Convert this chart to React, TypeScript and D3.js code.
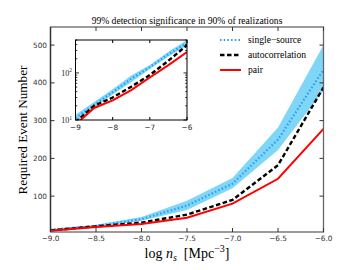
import * as React from "react";
import * as d3 from "d3";

// log n_s grid and required event numbers
const logNs = [-9, -8.5, -8, -7.5, -7, -6.5, -6];
const pairVals = [8, 18, 26, 43, 80, 146, 278];
const autoVals = [9, 20, 30, 51, 90, 182, 388];
const singleVals = [11, 21, 39, 75, 133, 250, 435];
const singleLow = [9, 18, 35, 63, 121, 222, 380];
const singleHigh = [13, 24, 45, 88, 148, 282, 500];

const mainXTicks = [-9, -8.5, -8, -7.5, -7, -6.5, -6];
const mainYTicks = [100, 200, 300, 400, 500];
const insetXTicks = [-9, -8, -7, -6];
const insetYTicks = [10, 100];

const legendItems = [
  { label: "single\u2212source", color: "#2b9cf2", dash: "1.5,2.2", width: 2.2 },
  { label: "autocorrelation", color: "#000", dash: "4.5,2.5", width: 2.4 },
  { label: "pair", color: "#ff0000", dash: null, width: 2 },
];

const serif = "'Liberation Serif', 'DejaVu Serif', serif";
const sans = "'DejaVu Sans', sans-serif";

export default function App() {
  const ref = React.useRef<SVGSVGElement>(null);

  React.useEffect(() => {
    const svg = d3.select(ref.current);
    svg.selectAll("*").remove();

    const W = 360, H = 270;
    svg.append("rect").attr("width", W).attr("height", H).attr("fill", "#fff");

    const m = { left: 50.5, right: 323.5, top: 27, bottom: 232 };
    const x = d3.scaleLinear().domain([-9, -6]).range([m.left, m.right]);
    const y = d3.scaleLinear().domain([5, 548]).range([m.bottom, m.top]);

    const data = logNs.map((v, i) => ({
      x: v, pair: pairVals[i], auto: autoVals[i], single: singleVals[i],
      lo: singleLow[i], hi: singleHigh[i],
    }));

    const defs = svg.append("defs");
    defs.append("clipPath").attr("id", "mainClip").append("rect")
      .attr("x", m.left).attr("y", m.top)
      .attr("width", m.right - m.left).attr("height", m.bottom - m.top);

    // title
    svg.append("text").attr("x", (m.left + m.right) / 2).attr("y", 24)
      .attr("text-anchor", "middle").attr("font-family", serif).attr("font-size", 9.6)
      .text("99% detection significance in 90% of realizations");

    // data in main axes
    const drawSeries = (g: any, xs: any, ys: any) => {
      const area = d3.area<any>().x((d) => xs(d.x)).y0((d) => ys(d.lo)).y1((d) => ys(d.hi));
      g.append("path").datum(data).attr("d", area).attr("fill", "#7fd6f7").attr("stroke", "none");
      const line = (k: string) => d3.line<any>().x((d) => xs(d.x)).y((d) => ys(d[k]));
      g.append("path").datum(data).attr("d", line("single")).attr("fill", "none")
        .attr("stroke", "#2b9cf2").attr("stroke-width", 2.2).attr("stroke-dasharray", "1.5,2.2");
      g.append("path").datum(data).attr("d", line("auto")).attr("fill", "none")
        .attr("stroke", "#000").attr("stroke-width", 2.4).attr("stroke-dasharray", "4.5,2.5");
      g.append("path").datum(data).attr("d", line("pair")).attr("fill", "none")
        .attr("stroke", "#ff0000").attr("stroke-width", 2);
    };

    const main = svg.append("g").attr("clip-path", "url(#mainClip)");
    drawSeries(main, x, y);

    // main frame and ticks
    const frame = "#666";
    svg.append("rect").attr("x", m.left).attr("y", m.top)
      .attr("width", m.right - m.left).attr("height", m.bottom - m.top)
      .attr("fill", "none").attr("stroke", frame).attr("stroke-width", 1.3);
    svg.append("line").attr("x1", m.left).attr("x2", m.left).attr("y1", m.top).attr("y2", m.bottom)
      .attr("stroke", "#333").attr("stroke-width", 1.3);

    mainXTicks.forEach((t) => {
      const px = x(t);
      svg.append("line").attr("x1", px).attr("x2", px).attr("y1", m.bottom).attr("y2", m.bottom - 4)
        .attr("stroke", "#333");
      svg.append("line").attr("x1", px).attr("x2", px).attr("y1", m.top).attr("y2", m.top + 4)
        .attr("stroke", "#333");
      svg.append("text").attr("x", px).attr("y", 240.5).attr("text-anchor", "middle")
        .attr("font-family", sans).attr("font-size", 7.3).attr("fill", "#333")
        .text(d3.format(".1f")(t).replace("-", "\u2212"));
    });
    mainYTicks.forEach((t) => {
      const py = y(t);
      svg.append("line").attr("x1", m.left).attr("x2", m.left + 4).attr("y1", py).attr("y2", py)
        .attr("stroke", "#333");
      svg.append("line").attr("x1", m.right).attr("x2", m.right - 4).attr("y1", py).attr("y2", py)
        .attr("stroke", "#333");
      svg.append("text").attr("x", 47).attr("y", py + 2.6).attr("text-anchor", "end")
        .attr("font-family", sans).attr("font-size", 7.3).attr("fill", "#333").text(String(t));
    });

    // axis labels
    svg.append("text").attr("transform", "translate(27,130) rotate(-90)")
      .attr("text-anchor", "middle").attr("font-family", serif).attr("font-size", 13.2)
      .text("Required Event Number");

    const xl = svg.append("text").attr("x", 187).attr("y", 258).attr("text-anchor", "middle")
      .attr("font-family", serif).attr("font-size", 14);
    xl.append("tspan").text("log ");
    xl.append("tspan").attr("font-style", "italic").text("n");
    xl.append("tspan").attr("font-style", "italic").attr("font-size", 10).attr("dy", 3).text("s");
    xl.append("tspan").attr("dy", -3).text("\u2002[Mpc");
    xl.append("tspan").attr("font-size", 10).attr("dy", -6).text("\u22123");
    xl.append("tspan").attr("dy", 6).text("]");

    // legend
    legendItems.forEach((it, i) => {
      const ly = 40 + i * 15;
      const ln = svg.append("line").attr("x1", 220).attr("x2", 241).attr("y1", ly).attr("y2", ly)
        .attr("stroke", it.color).attr("stroke-width", it.width);
      if (it.dash) ln.attr("stroke-dasharray", it.dash);
      svg.append("text").attr("x", 248).attr("y", ly + 3.2).attr("font-family", serif)
        .attr("font-size", 9.6).text(it.label);
    });

    // inset
    const im = { left: 75.5, right: 187, top: 40, bottom: 120 };
    const ix = d3.scaleLinear().domain([-9, -6]).range([im.left, im.right]);
    const iy = d3.scaleLog().domain([10, 500]).range([im.bottom, im.top]);
    defs.append("clipPath").attr("id", "insetClip").append("rect")
      .attr("x", im.left).attr("y", im.top)
      .attr("width", im.right - im.left).attr("height", im.bottom - im.top);
    svg.append("rect").attr("x", im.left).attr("y", im.top)
      .attr("width", im.right - im.left).attr("height", im.bottom - im.top).attr("fill", "#fff");
    const inset = svg.append("g").attr("clip-path", "url(#insetClip)");
    drawSeries(inset, ix, iy);
    svg.append("rect").attr("x", im.left).attr("y", im.top)
      .attr("width", im.right - im.left).attr("height", im.bottom - im.top)
      .attr("fill", "none").attr("stroke", "#000").attr("stroke-width", 1);

    insetXTicks.forEach((t) => {
      const px = ix(t);
      svg.append("line").attr("x1", px).attr("x2", px).attr("y1", im.bottom).attr("y2", im.bottom - 3)
        .attr("stroke", "#000");
      svg.append("line").attr("x1", px).attr("x2", px).attr("y1", im.top).attr("y2", im.top + 3)
        .attr("stroke", "#000");
      svg.append("text").attr("x", px).attr("y", 129.5).attr("text-anchor", "middle")
        .attr("font-family", sans).attr("font-size", 7.3).attr("fill", "#222")
        .text(String(t).replace("-", "\u2212"));
    });
    const minor = iy.ticks().filter((v) => v >= 10 && v <= 500);
    minor.forEach((t) => {
      const py = iy(t);
      const len = insetYTicks.includes(t) ? 3.5 : 1.8;
      svg.append("line").attr("x1", im.left).attr("x2", im.left + len).attr("y1", py).attr("y2", py)
        .attr("stroke", "#000").attr("stroke-width", 0.8);
      svg.append("line").attr("x1", im.right).attr("x2", im.right - len).attr("y1", py).attr("y2", py)
        .attr("stroke", "#000").attr("stroke-width", 0.8);
    });
    insetYTicks.forEach((t) => {
      const py = iy(t);
      const tx = svg.append("text").attr("x", 72).attr("y", py + 3).attr("text-anchor", "end")
        .attr("font-family", serif).attr("font-size", 8).attr("fill", "#222");
      tx.append("tspan").text("10");
      tx.append("tspan").attr("font-size", 5.5).attr("dy", -3.5).text(String(Math.round(Math.log10(t))));
    });
  }, []);

  return (
    <svg ref={ref} width={360} height={270}
      style={{ position: "absolute", left: 0, top: 0, display: "block" }} />
  );
}
